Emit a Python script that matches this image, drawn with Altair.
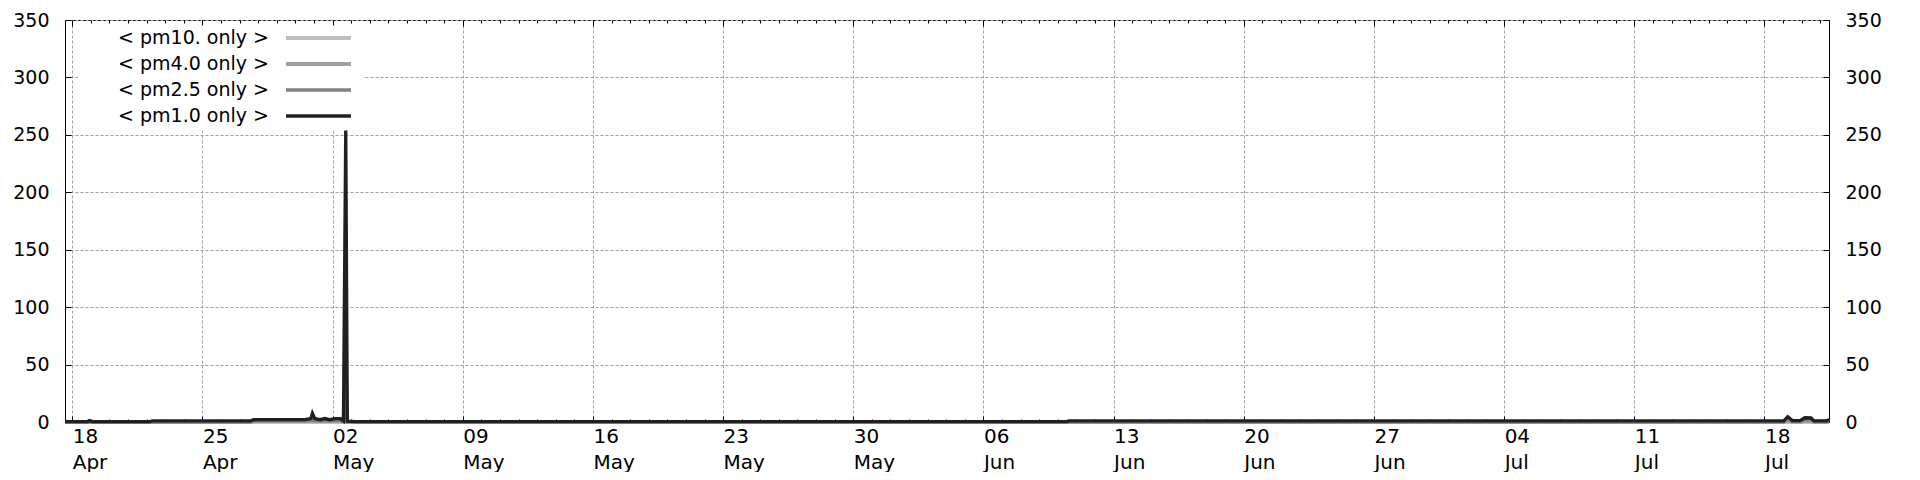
import altair as alt
import pandas as pd

# ---------------- data ----------------
times = [
    "2024-04-17T14:40:00Z", "2024-04-18T20:00:00Z", "2024-04-18T22:00:00Z",
    "2024-04-19T02:00:00Z", "2024-04-22T04:00:00Z", "2024-04-22T08:00:00Z",
    "2024-04-27T14:00:00Z", "2024-04-27T18:00:00Z", "2024-04-30T12:00:00Z",
    "2024-04-30T20:00:00Z", "2024-04-30T22:00:00Z", "2024-05-01T01:00:00Z",
    "2024-05-01T08:00:00Z", "2024-05-01T14:00:00Z", "2024-05-01T20:00:00Z",
    "2024-05-02T04:00:00Z", "2024-05-02T10:00:00Z", "2024-05-02T14:00:00Z",
    "2024-05-02T17:00:00Z", "2024-05-02T17:40:00Z", "2024-05-02T19:00:00Z",
    "2024-05-03T06:00:00Z", "2024-06-10T12:00:00Z", "2024-06-10T14:00:00Z",
    "2024-07-19T01:00:00Z", "2024-07-19T06:00:00Z", "2024-07-19T12:00:00Z",
    "2024-07-19T22:00:00Z", "2024-07-20T04:00:00Z", "2024-07-20T12:00:00Z",
    "2024-07-20T16:00:00Z", "2024-07-21T08:00:00Z", "2024-07-21T10:00:00Z",
    "2024-07-21T11:15:00Z",
]
pm10_only = [0, 0, 0, 0, 0, 0, 0, 0.3, 0.3, 0.3, 0.5, 0.3,
             0.3, 0.3, 0.3, 0.3, 0.3, 0, 3, 2, 0, 0, 0, 0,
             0, 0.4, 0, 0, 0.3, 0.3, 0, 0, 0, 0]
pm4_only = [0, 0, 0, 0, 0, 0, 0, 0.5, 0.5, 0.5, 0.8, 0.5,
            0.5, 0.5, 0.5, 0.5, 0.5, 0.2, 6, 5, 0.2, 0.2, 0.2, 0.1,
            0.1, 0.8, 0.2, 0.2, 0.6, 0.6, 0.2, 0.2, 0.3, 0.2]
pm25_only = [0.1, 0.1, 0.5, 0.1, 0.1, 0.3, 0.3, 1.2, 1.2, 1.5, 1.5, 1.5,
             1.2, 1.5, 1.2, 1.5, 1.5, 0.5, 51, 41, 0.3, 0.2, 0.2, 0.3,
             0.3, 2.8, 0.6, 0.6, 2.2, 2.0, 0.5, 0.5, 0.8, 0.5]
pm1_only = [0.3, 0.4, 1.2, 0.4, 0.4, 0.9, 0.9, 2.0, 2.0, 3.0, 7.6, 3.0,
            2.0, 3.0, 2.0, 3.0, 3.0, 1.0, 255, 171, 0.8, 0.4, 0.4, 0.9,
            0.9, 4.6, 1.2, 1.2, 3.7, 3.5, 1.0, 1.0, 1.6, 1.0]

series_names = ["< pm10. only >", "< pm4.0 only >", "< pm2.5 only >", "< pm1.0 only >"]
series_colors = ["#bebebe", "#a0a0a0", "#808080", "#202020"]
series_widths = [4, 3.3, 2.7, 2.2]

y_ticks = [0, 50, 100, 150, 200, 250, 300, 350]
major_ticks = ["2024-04-18", "2024-04-25", "2024-05-02", "2024-05-09", "2024-05-16",
               "2024-05-23", "2024-05-30", "2024-06-06", "2024-06-13", "2024-06-20",
               "2024-06-27", "2024-07-04", "2024-07-11", "2024-07-18"]
x_domain = ["2024-04-17T14:40:00Z", "2024-07-21T11:15:00Z"]

# ---------------- build table ----------------
def ms(s):
    ts = pd.Timestamp(s)
    if ts.tzinfo is None:
        ts = ts.tz_localize("UTC")
    return int(ts.value // 10**6)

rows = []
for name, vals in zip(series_names, [pm10_only, pm4_only, pm25_only, pm1_only]):
    for t, v in zip(times, vals):
        rows.append({"t": t, "series": name, "v": v})
df = pd.DataFrame(rows)

major_ms = [ms(d) for d in major_ticks]
daily_ms = [ms(d) for d in pd.date_range("2024-04-18", "2024-07-21", freq="D").strftime("%Y-%m-%d")]

xscale = alt.Scale(type="utc", domain=[ms(x_domain[0]), ms(x_domain[1])], nice=False)
yscale = alt.Scale(domain=[0, 350], nice=False, zero=True)

FONT = "DejaVu Sans"

# a wide flat stroke symbol: the path is 10 units wide, size 169 -> ~65 px long
legend = alt.Legend(
    title=None, orient="none", legendX=13, legendY=5.5,
    symbolType="M-5,0H5", symbolSize=169, symbolOffset=228,
    labelAlign="right", labelOffset={"expr": "-59"}, labelFont=FONT, labelFontSize=19,
    labelColor="black", labelLimit=400, rowPadding=6,
    padding=3, fillColor="white", strokeColor="white",
)
color = alt.Color("series:N", scale=alt.Scale(domain=series_names, range=series_colors), legend=legend)
swidth = alt.StrokeWidth("series:N", scale=alt.Scale(domain=series_names, range=series_widths), legend=legend)

# axes
grid_x = alt.Axis(orient="bottom", values=major_ms, grid=True, ticks=False, labels=False,
                  domain=False, title=None)
major_x = alt.Axis(orient="bottom", values=major_ms, grid=False, ticks=True, tickSize=6, offset=-6,
                   labels=True, domain=False, title=None,
                   labelExpr="[utcFormat(datum.value, '%d'), utcFormat(datum.value, '%b')]",
                   labelAlign="left", labelBaseline="top", labelPadding=4, labelLineHeight=26,
                   labelFontSize=20, labelFont=FONT, labelOverlap=False, labelFlush=False)
minor_x = alt.Axis(orient="bottom", values=daily_ms, grid=False, ticks=True, tickSize=3, offset=-3,
                   labels=False, domain=False, title=None)
top_major_x = alt.Axis(orient="top", values=major_ms, grid=False, ticks=True, tickSize=6, offset=-6,
                       labels=False, domain=False, title=None)
top_minor_x = alt.Axis(orient="top", values=daily_ms, grid=False, ticks=True, tickSize=3, offset=-3,
                       labels=False, domain=False, title=None)

grid_y = alt.Axis(orient="left", values=y_ticks, grid=True, ticks=False, labels=False,
                  domain=False, title=None)
left_y = alt.Axis(orient="left", values=y_ticks, grid=False, ticks=True, tickSize=6, offset=-6,
                  labelPadding=16, labelFontSize=19, labelFont=FONT, domain=False, title=None,
                  labelFlush=False, labelOverlap=False)
right_y = alt.Axis(orient="right", values=y_ticks, grid=False, ticks=True, tickSize=6, offset=-6,
                   labelPadding=16, labelFontSize=19, labelFont=FONT, domain=False, title=None,
                   labelFlush=False, labelOverlap=False)

base = alt.Chart(df)

host = base.mark_line(opacity=0).encode(
    x=alt.X("t:T", scale=xscale, axis=top_minor_x),
    y=alt.Y("v:Q", scale=yscale, axis=None),
    detail="series:N",
)

layer_specs = [
    (series_names[0], grid_x, grid_y),
    (series_names[1], major_x, left_y),
    (series_names[2], minor_x, right_y),
    (series_names[3], top_major_x, None),
]
layers = [host]
for name, xa, ya in layer_specs:
    layers.append(
        base.transform_filter(alt.datum.series == name)
        .mark_line(interpolate="linear", strokeJoin="miter")
        .encode(
            x=alt.X("t:T", scale=xscale, axis=xa),
            y=alt.Y("v:Q", scale=yscale, axis=ya),
            color=color,
            strokeWidth=swidth,
        )
    )

chart = (
    alt.layer(*layers)
    .resolve_axis(x="independent", y="independent")
    .resolve_scale(x="shared", y="shared")
    .properties(
        width=1764, height=402,
        autosize=alt.AutoSizeParams(type="none"),
        padding={"left": 57, "top": 12, "right": 83, "bottom": 50},
        background="white",
    )
    .configure_view(stroke="black", strokeWidth=1)
    .configure_axis(
        labelColor="black", tickColor="black", tickWidth=1,
        gridColor="#a0a0a0", gridDash=[3, 2], gridWidth=1, labelFont=FONT,
    )
)

chart.save("out.html", embed_options={"renderer": "svg", "actions": False})
